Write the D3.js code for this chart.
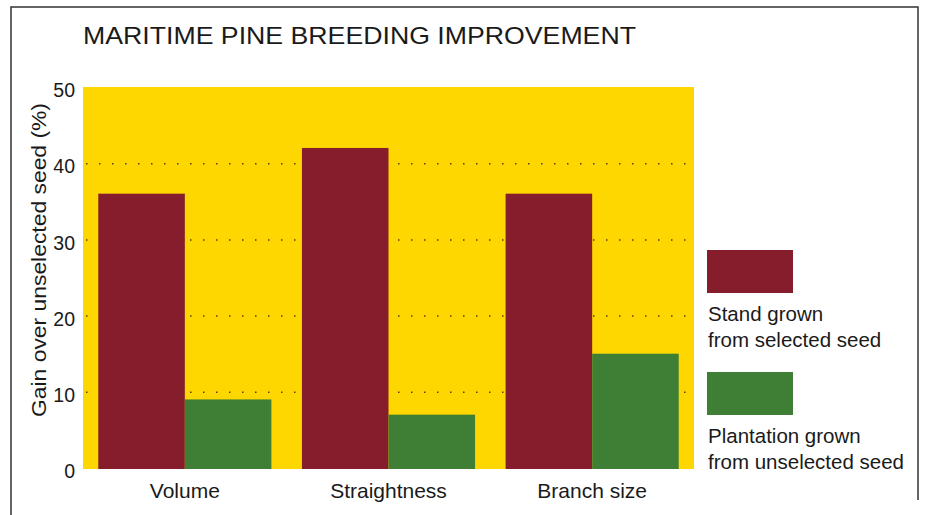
<!DOCTYPE html>
<html>
<head>
<meta charset="utf-8">
<script src="https://cdn.jsdelivr.net/npm/d3@7"></script>
<style>
  body { margin: 0; background: #fff; }
  svg { display: block; font-family: "Liberation Sans", Arial, sans-serif; }
</style>
</head>
<body>
<div id="chart"></div>
<script>

var categories = ["Volume", "Straightness", "Branch size"];
var seriesNames = ["Stand grown from selected seed", "Plantation grown from unselected seed"];
var selectedSeed = [36, 42, 36];
var unselectedSeed = [9, 7, 15];
var yTicks = [0, 10, 20, 30, 40, 50];
var gridTicks = [10, 20, 30, 40];

var colors = ["#861d2c", "#3f7f35"];

var svgWidth = 928, svgHeight = 515;
var margin = {top: 87, right: 234, bottom: 47, left: 83};
var width = svgWidth - margin.left - margin.right;
var height = svgHeight - margin.top - margin.bottom;

var svg = d3.select("#chart").append("svg")
    .attr("width", svgWidth)
    .attr("height", svgHeight);

// frame round the figure
svg.append("path")
    .attr("d", "M11,515 L11,7 L918,7 L918,500")
    .attr("fill", "none")
    .attr("stroke", "#333")
    .attr("stroke-width", 1.5);

svg.append("text")
    .attr("x", 83)
    .attr("y", 44)
    .attr("font-size", 24.5)
    .attr("fill", "#1a1a1a")
    .attr("textLength", 553)
    .attr("lengthAdjust", "spacingAndGlyphs")
    .text("MARITIME PINE BREEDING IMPROVEMENT");

var g = svg.append("g")
    .attr("transform", "translate(" + margin.left + "," + margin.top + ")");

var x0 = d3.scaleBand()
    .domain(categories)
    .range([0, width])
    .paddingInner(0.15)
    .paddingOuter(0.075);

var x1 = d3.scaleBand()
    .domain([0, 1])
    .range([0, x0.bandwidth()]);

var y = d3.scaleLinear().domain([0, 50]).range([height, 0]);

// yellow plot background
g.append("rect")
    .attr("x", 0)
    .attr("y", y(50))
    .attr("width", width)
    .attr("height", y(0) - y(50) + 1)
    .attr("fill", "#ffd700");

g.append("g")
    .attr("class", "grid")
    .call(d3.axisLeft(y)
        .tickValues(gridTicks)
        .tickSize(-width + 6)
        .tickFormat(""))
    .attr("transform", "translate(3,0)")
    .call(function(s) { s.select(".domain").remove(); });

g.selectAll(".grid line")
    .attr("stroke", "#5a3c10")
    .attr("stroke-width", 1.5)
    .attr("stroke-dasharray", "1.5,11.5");

var rows = categories.map(function(c, i) {
    return {cat: c, values: [selectedSeed[i], unselectedSeed[i]]};
});

var groups = g.selectAll(".group")
    .data(rows)
    .enter().append("g")
    .attr("class", "group")
    .attr("transform", function(d) { return "translate(" + x0(d.cat) + ",0)"; });

groups.selectAll("rect")
    .data(function(d) { return d.values.map(function(v, k) { return {k: k, v: v}; }); })
    .enter().append("rect")
    .attr("x", function(d) { return x1(d.k); })
    .attr("width", x1.bandwidth())
    .attr("y", function(d) { return y(d.v); })
    .attr("height", function(d) { return y(0) - y(d.v) + 1; })
    .attr("fill", function(d) { return colors[d.k]; });

var yAxis = g.append("g")
    .call(d3.axisLeft(y).tickValues(yTicks).tickSize(0).tickPadding(8));
yAxis.select(".domain").remove();
yAxis.selectAll("text")
    .attr("font-size", 19.5)
    .attr("fill", "#1a1a1a")
    .attr("font-family", "Liberation Sans, Arial, sans-serif")
    .attr("dy", "0.5em");

var xAxis = g.append("g")
    .attr("transform", "translate(0," + height + ")")
    .call(d3.axisBottom(x0).tickSize(0).tickPadding(15));
xAxis.select(".domain").remove();
xAxis.selectAll("text")
    .attr("font-size", 21)
    .attr("fill", "#1a1a1a")
    .attr("font-family", "Liberation Sans, Arial, sans-serif");

svg.append("text")
    .attr("transform", "translate(46,260) rotate(-90)")
    .attr("text-anchor", "middle")
    .attr("font-size", 21)
    .attr("fill", "#1a1a1a")
    .attr("textLength", 314)
    .attr("lengthAdjust", "spacingAndGlyphs")
    .text("Gain over unselected seed (%)");

// legend
var legendLines = [["Stand grown", "from selected seed"], ["Plantation grown", "from unselected seed"]];
var legend = svg.selectAll(".legend")
    .data(seriesNames)
    .enter().append("g")
    .attr("class", "legend")
    .attr("transform", function(d, i) { return "translate(707," + (250 + i * 122) + ")"; });

legend.append("rect")
    .attr("width", 86)
    .attr("height", 43)
    .attr("fill", function(d, i) { return colors[i]; });

legend.each(function(d, i) {
    d3.select(this).selectAll("text")
        .data(legendLines[i])
        .enter().append("text")
        .attr("x", 1)
        .attr("y", function(t, j) { return 71 + j * 26; })
        .attr("font-size", 20.5)
        .attr("fill", "#1a1a1a")
        .text(function(t) { return t; });
});

</script>
</body>
</html>
